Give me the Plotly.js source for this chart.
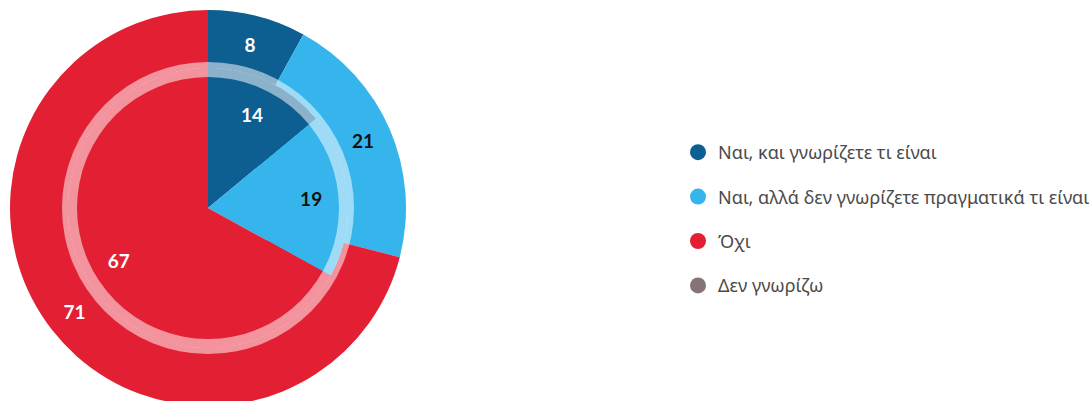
<!DOCTYPE html>
<html>
<head>
<meta charset="utf-8">
<script src="https://cdn.plot.ly/plotly-3.0.1.min.js"></script>
<style>
html,body{margin:0;padding:0;overflow:hidden;background:#fff;}
#chart{width:1090px;height:416px;}
</style>
</head>
<body>
<div id="chart"></div>
<script>
var categories = ["Ναι, και γνωρίζετε τι είναι", "Ναι, αλλά δεν γνωρίζετε πραγματικά τι είναι", "Όχι", "Δεν γνωρίζω"];
var outerValues = [8, 21, 71, 0];
var innerValues = [14, 19, 67, 0];
var colors = ["#0d5f91", "#36b5ec", "#e31f33", "#857476"];
var textColors = ["#ffffff", "#111111", "#ffffff", "#ffffff"];

var W = 1080, H = 396;       // plot area in px
var R = 198, rIn = 140, ringOut = 146, ringIn = 131;

function dom(r) {
  return { x: [(R - r) / W, (R + r) / W], y: [(R - r) / H, (R + r) / H] };
}
function labels(vals) { return vals.map(function (v) { return v > 0 ? String(v) : ""; }); }

var common = {
  type: "pie", labels: categories, sort: false, direction: "clockwise", rotation: 0,
  marker: { colors: colors, line: { width: 0 } },
  textinfo: "text", textposition: "inside", insidetextorientation: "horizontal",
  insidetextfont: { family: "Lato, 'Noto Sans', sans-serif", size: 19, color: textColors, weight: "bold" },
  showlegend: false, hoverinfo: "label+value"
};

var outer = Object.assign({}, common, { values: outerValues, text: labels(outerValues), hole: rIn / R, domain: dom(R) });
var inner = Object.assign({}, common, { values: innerValues, text: labels(innerValues), textinfo: "none", domain: dom(rIn) });
var innerText = Object.assign({}, common, { values: innerValues, text: labels(innerValues), hole: 0.48, domain: dom(rIn) });
var ring = {
  type: "pie", values: [1], labels: ["ring"], hole: ringIn / ringOut, domain: dom(ringOut),
  marker: { colors: ["rgba(255,255,255,0.52)"], line: { width: 0 } },
  textinfo: "none", showlegend: false, hoverinfo: "skip", sort: false
};

var legendTraces = categories.map(function (c, i) {
  return {
    type: "scatter", mode: "markers", x: [null], y: [null], name: c,
    legendgroup: "g" + i,
    marker: { color: colors[i], size: 20, symbol: "circle" }, hoverinfo: "skip"
  };
});

var data = [outer, inner, innerText, ring].concat(legendTraces);

var layout = {
  width: 1090, height: 416,
  margin: { l: 10, r: 0, t: 10, b: 10, autoexpand: false },
  paper_bgcolor: "#ffffff", plot_bgcolor: "rgba(0,0,0,0)",
  xaxis: { visible: false }, yaxis: { visible: false },
  showlegend: true,
  legend: {
    x: 678 / 1090, xref: "container", y: 1 - 134 / 416, yref: "container", yanchor: "top", xanchor: "left",
    font: { family: "'Noto Sans', sans-serif", size: 18, color: "#4a4a4a" },
    tracegroupgap: 18, itemwidth: 30, bgcolor: "rgba(0,0,0,0)"
  }
};

Plotly.newPlot("chart", data, layout, { displayModeBar: false, staticPlot: true });
</script>
</body>
</html>
